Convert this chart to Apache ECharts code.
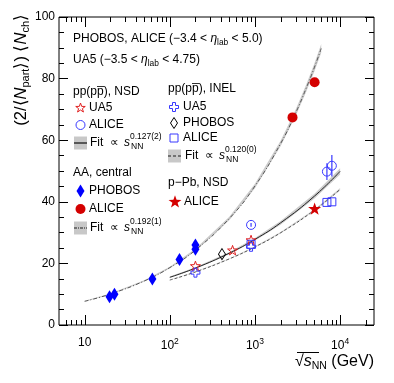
<!DOCTYPE html>
<html>
<head>
<meta charset="utf-8">
<script src="https://cdn.jsdelivr.net/npm/echarts@6/dist/echarts.min.js"></script>
<style>
html, body { margin: 0; padding: 0; background: #fff; }
#chart { width: 394px; height: 383px; }
</style>
</head>
<body>
<div id="chart"></div>
<script>
// sqrt(s_NN) in GeV  ->  (2/<Npart>) <Nch>
var phobosAAx = [19.6, 22.4, 62.4, 130, 200, 200];
var phobosAAy = [9.2, 10.0, 14.9, 21.3, 24.6, 26.0];
var aliceAAx = [2760, 5020];
var aliceAAy = [67.4, 78.8];
var ua5NsdX = [200, 546, 900];
var ua5NsdY = [19.2, 24.3, 27.6];
var aliceNsdX = [900, 7000, 8000];
var aliceNsdY = [32.5, 49.8, 51.7];
var aliceNsdErr = [0.6, 2.7, 3.5];
var ua5InelX = [200, 900];
var ua5InelY = [17.0, 25.4];
var phobosInelX = [410];
var phobosInelY = [23.0];
var aliceInelX = [900, 7000, 8000];
var aliceInelY = [26.2, 39.8, 40.0];
var alicePPbX = [5020];
var alicePPbY = [37.8];

// fit curves
var aaFitX = [10, 20, 50, 100, 200, 500, 1000, 2000, 3000, 4000, 5000, 6000];
var aaFitY = [7.7, 10.05, 14.28, 18.64, 24.33, 34.59, 45.13, 58.9, 68.8, 76.9, 83.7, 89.8];
var aaFitErr = [0.15, 0.2, 0.25, 0.3, 0.4, 0.55, 0.7, 0.9, 1.05, 1.2, 1.3, 1.4];
var ppFitX = [100, 200, 500, 1000, 2000, 5000, 10000];
var nsdFitY = [15.49, 18.48, 23.32, 27.81, 33.16, 41.85, 49.9];
var nsdFitErr = [0.25, 0.3, 0.35, 0.45, 0.6, 0.8, 1.0];
var inelFitY = [14.59, 17.22, 21.47, 25.35, 29.94, 37.3, 44.05];
var inelFitErr = [0.1, 0.12, 0.15, 0.2, 0.25, 0.3, 0.4];

var xTickLabels = {1: '10', 2: '10{sup|2}', 3: '10{sup|3}', 4: '10{sup|4}'};

var FONT = '"Liberation Sans", Arial, Helvetica, sans-serif';
var STAR_PTS = [[0, -10], [2.35, -3.24], [9.51, -3.09], [3.8, 1.24], [5.88, 8.09], [0, 4], [-5.88, 8.09], [-3.8, 1.24], [-9.51, -3.09], [-2.35, -3.24]];
var CROSS_PTS = [[-1, -3], [1, -3], [1, -1], [3, -1], [3, 1], [1, 1], [1, 3], [-1, 3], [-1, 1], [-3, 1], [-3, -1], [-1, -1]];
function toPath(pts) {
    return 'path://' + pts.map(function (p, i) { return (i ? 'L' : 'M') + p[0] + ',' + p[1]; }).join(' ') + ' Z';
}
function placed(pts, cx, cy, scale) {
    return pts.map(function (p) { return [cx + p[0] * scale, cy + p[1] * scale]; });
}
var STAR = toPath(STAR_PTS);
var CROSS = toPath(CROSS_PTS);
var BLUE = '#3838ff';
var RED = '#d40000';

function pairs(xs, ys) {
    var out = [];
    for (var i = 0; i < xs.length; i++) out.push([xs[i], ys[i]]);
    return out;
}

// log axis ticks drawn along bottom and top
var tickData = [];
for (var d = 0; d <= 4; d++) {
    for (var k = 1; k <= 9; k++) {
        var v = k * Math.pow(10, d);
        if (v > 5 && v < 25000) tickData.push([v, 0, k === 1 ? 1 : 0]);
    }
}

function bandSeries(xs, ys, errs, color) {
    return {
        type: 'custom',
        silent: true,
        z: 1,
        data: [[xs[0], ys[0]]],
        renderItem: function (params, api) {
            var pts = [];
            for (var i = 0; i < xs.length; i++) pts.push(api.coord([xs[i], ys[i] + errs[i]]));
            for (var j = xs.length - 1; j >= 0; j--) pts.push(api.coord([xs[j], ys[j] - errs[j]]));
            return { type: 'polygon', shape: { points: pts }, style: { fill: color } };
        }
    };
}

function lineSeries(xs, ys, color, type) {
    return {
        type: 'line',
        silent: true,
        z: 2,
        data: pairs(xs, ys),
        smooth: true,
        showSymbol: false,
        lineStyle: { color: color, width: 1, type: type }
    };
}

function scatter(xs, ys, symbol, size, fill, stroke) {
    return {
        type: 'scatter',
        z: 5,
        data: pairs(xs, ys),
        symbol: symbol,
        symbolSize: size,
        symbolKeepAspect: true,
        itemStyle: { color: fill, borderColor: stroke, borderWidth: stroke ? 1 : 0, opacity: 1 }
    };
}

function txt(x, y, str, size, rich, extra) {
    var st = { text: str, fill: '#000', fontSize: size, fontFamily: FONT, verticalAlign: 'middle', align: 'left' };
    if (rich) st.rich = rich;
    var el = { type: 'text', x: x, y: y, silent: true, style: st, z: 100 };
    if (extra) for (var key in extra) el[key] = extra[key];
    return el;
}

function richSet(size) {
    return {
        t: { fontSize: size, fontFamily: FONT, fill: '#000' },
        e: { fontSize: size, fontFamily: FONT, fontStyle: 'italic', fill: '#000' },
        s: { fontSize: size * 0.7, fontFamily: FONT, fill: '#000', padding: [size * 0.55, 0, 0, 0] }
    };
}

function fitEntry(x, y, lineType, lineColor, expo, tx) {
    return [
        { type: 'rect', shape: { x: x, y: y - 6.5, width: 13, height: 13 }, style: { fill: '#c8c8c8' }, z: 100 },
        { type: 'line', shape: { x1: x, y1: y, x2: x + 13, y2: y }, style: { stroke: lineColor, lineWidth: 1.5, lineDash: lineType }, z: 101 },
        txt(tx, y, 'Fit', 12),
        txt(tx + 20, y, '\u221d', 12),
        txt(tx + 34, y, '{e|s}', 12, richSet(12)),
        txt(tx + 40, y - 6, '0' + expo, 8.5),
        txt(tx + 41, y + 4, 'NN', 8.5)
    ];
}

var graphics = [];
var r12 = richSet(12);
graphics.push(txt(73, 39, '{t|PHOBOS, ALICE (\u22123.4 < }{e|\u03b7}{s|lab}{t| < 5.0)}', 12, r12));
graphics.push(txt(73, 60, '{t|UA5 (\u22123.5 < }{e|\u03b7}{s|lab}{t| < 4.75)}', 12, r12));

// left column
graphics.push(txt(73, 92, 'pp(pp\u0305), NSD', 12));
graphics.push({ type: 'polygon', shape: { points: placed(STAR_PTS, 80.5, 108, 0.5) }, style: { fill: 'none', stroke: '#e02020', lineWidth: 1 }, z: 100 });
graphics.push(txt(89, 108, 'UA5', 12));
graphics.push({ type: 'circle', shape: { cx: 80.5, cy: 125, r: 4.5 }, style: { fill: 'none', stroke: BLUE, lineWidth: 1 }, z: 100 });
graphics.push(txt(89, 125, 'ALICE', 12));
graphics = graphics.concat(fitEntry(74, 143, null, '#333', '.127(2)', 90));
graphics.push(txt(73, 173, 'AA, central', 12));
graphics.push({ type: 'polygon', shape: { points: [[80.5, 184.5], [84.5, 191], [80.5, 197.5], [76.5, 191]] }, style: { fill: '#0000ff' }, z: 100 });
graphics.push(txt(89, 191, 'PHOBOS', 12));
graphics.push({ type: 'circle', shape: { cx: 80.5, cy: 209, r: 5 }, style: { fill: RED }, z: 100 });
graphics.push(txt(89, 209, 'ALICE', 12));
graphics = graphics.concat(fitEntry(74, 228, [3, 1, 1, 1], '#555', '.192(1)', 90));

// right column
graphics.push(txt(168, 89, 'pp(pp\u0305), INEL', 12));
graphics.push({ type: 'polygon', shape: { points: placed(CROSS_PTS, 174, 107, 1.5) }, style: { fill: 'none', stroke: BLUE, lineWidth: 1 }, z: 100 });
graphics.push(txt(183, 107, 'UA5', 12));
graphics.push({ type: 'polygon', shape: { points: [[174, 117.5], [177.5, 123], [174, 128.5], [170.5, 123]] }, style: { fill: 'none', stroke: '#000', lineWidth: 1 }, z: 100 });
graphics.push(txt(183, 123, 'PHOBOS', 12));
graphics.push({ type: 'rect', shape: { x: 170, y: 134, width: 8, height: 8 }, style: { fill: 'none', stroke: BLUE, lineWidth: 1 }, z: 100 });
graphics.push(txt(183, 138, 'ALICE', 12));
graphics = graphics.concat(fitEntry(168, 156, [3, 2], '#555', '.120(0)', 185));
graphics.push(txt(168, 183, 'p\u2212Pb, NSD', 12));
graphics.push({ type: 'polygon', shape: { points: placed(STAR_PTS, 175, 202, 0.68) }, style: { fill: RED }, z: 100 });
graphics.push(txt(184, 202, 'ALICE', 12));

// axis titles
graphics.push(txt(21, 14, '{t|(2/\u27e8}{n|N}{s|part}{t|\u27e9) \u27e8}{n|N}{s|ch}{t|\u27e9}', 16.5, {
    t: { fontSize: 16.5, fontFamily: FONT, fill: '#000' },
    n: { fontSize: 16.5, fontFamily: FONT, fontStyle: 'italic', fill: '#000' },
    s: { fontSize: 11, fontFamily: FONT, fill: '#000', padding: [10, 0, 0, 0] }
}, { rotation: Math.PI / 2 }));
graphics[graphics.length - 1].style.align = 'right';
graphics.push(txt(374, 362, '{t|\u221a}{n|s}{s|NN}{t| (GeV)}', 16, {
    t: { fontSize: 16, fontFamily: FONT, fill: '#000' },
    n: { fontSize: 16, fontFamily: FONT, fontStyle: 'italic', fill: '#000' },
    s: { fontSize: 10.5, fontFamily: FONT, fill: '#000', padding: [9, 0, 0, 0] }
}));
graphics[graphics.length - 1].style.align = 'right';
graphics.push({ type: 'line', shape: { x1: 297, y1: 352.5, x2: 319, y2: 352.5 }, style: { stroke: '#000', lineWidth: 1 }, z: 100 });

var yAxisBase = {
    type: 'value', min: 0, max: 100, interval: 20,
    axisLine: { show: false },
    axisTick: { inside: true, length: 9, lineStyle: { color: '#000' } },
    minorTick: { show: true, splitNumber: 4, length: 5, lineStyle: { color: '#000' } },
    splitLine: { show: false }
};

var option = {
    animation: false,
    grid: { left: 59, right: 20, top: 17, bottom: 58, show: true, borderColor: '#000', borderWidth: 1 },
    xAxis: {
        type: 'log', logBase: 10, min: 5, max: 25000,
        axisLine: { show: false },
        axisTick: { show: false },
        splitLine: { show: false },
        axisLabel: {
            margin: 12,
            showMinLabel: false,
            showMaxLabel: false,
            color: '#000',
            fontSize: 12,
            fontFamily: FONT,
            formatter: function (v) {
                var e = Math.round(Math.log(v) / Math.LN10);
                if (Math.abs(Math.pow(10, e) - v) > 1e-6 * v) return '';
                return xTickLabels[e] || '';
            },
            rich: { sup: { fontSize: 8.5, fontFamily: FONT, color: '#000', padding: [0, 0, 8, 0] } }
        }
    },
    yAxis: [
        Object.assign({}, yAxisBase, { axisLabel: { color: '#000', fontSize: 12, fontFamily: FONT, margin: 4 } }),
        Object.assign({}, yAxisBase, { position: 'right', axisLabel: { show: false } })
    ],
    graphic: graphics,
    series: [
        {
            type: 'custom',
            silent: true,
            z: 10,
            data: tickData,
            encode: { x: 0, y: 1 },
            renderItem: function (params, api) {
                var x = api.value(0);
                var len = api.value(2) ? 10 : 5;
                var b = api.coord([x, 0]);
                var t = api.coord([x, 100]);
                var px = Math.round(b[0]) + 0.5;
                return {
                    type: 'group',
                    children: [
                        { type: 'line', shape: { x1: px, y1: b[1], x2: px, y2: b[1] - len }, style: { stroke: '#000', lineWidth: 1 } },
                        { type: 'line', shape: { x1: px, y1: t[1], x2: px, y2: t[1] + len }, style: { stroke: '#000', lineWidth: 1 } }
                    ]
                };
            }
        },
        bandSeries(aaFitX, aaFitY, aaFitErr, '#cccccc'),
        bandSeries(ppFitX, nsdFitY, nsdFitErr, '#cccccc'),
        bandSeries(ppFitX, inelFitY, inelFitErr, '#d4d4d4'),
        lineSeries(aaFitX, aaFitY, '#555', [4, 2, 1, 2]),
        lineSeries(ppFitX, nsdFitY, '#222', 'solid'),
        lineSeries(ppFitX, inelFitY, '#555', [3, 2]),
        {
            type: 'custom',
            silent: true,
            z: 4,
            data: aliceNsdX.map(function (x, i) { return [x, aliceNsdY[i], aliceNsdErr[i]]; }),
            encode: { x: 0, y: 1 },
            renderItem: function (params, api) {
                var lo = api.coord([api.value(0), api.value(1) - api.value(2)]);
                var hi = api.coord([api.value(0), api.value(1) + api.value(2)]);
                return { type: 'line', shape: { x1: lo[0], y1: lo[1], x2: hi[0], y2: hi[1] }, style: { stroke: BLUE, lineWidth: 1.2 } };
            }
        },
        scatter(phobosAAx, phobosAAy, 'diamond', [8, 13], '#0000ff', null),
        scatter(aliceAAx, aliceAAy, 'circle', 10, RED, null),
        scatter(ua5NsdX, ua5NsdY, STAR, 10, 'rgba(0,0,0,0)', '#e02020'),
        scatter(aliceNsdX, aliceNsdY, 'circle', 9, 'rgba(255,255,255,0)', BLUE),
        scatter(ua5InelX, ua5InelY, CROSS, 9, 'rgba(0,0,0,0)', BLUE),
        scatter(phobosInelX, phobosInelY, 'diamond', [7, 11], 'rgba(0,0,0,0)', '#000'),
        scatter(aliceInelX, aliceInelY, 'rect', 8, 'rgba(0,0,0,0)', BLUE),
        scatter(alicePPbX, alicePPbY, STAR, 13, RED, null)
    ]
};

var chart = echarts.init(document.getElementById('chart'));
chart.setOption(option);
</script>
</body>
</html>
